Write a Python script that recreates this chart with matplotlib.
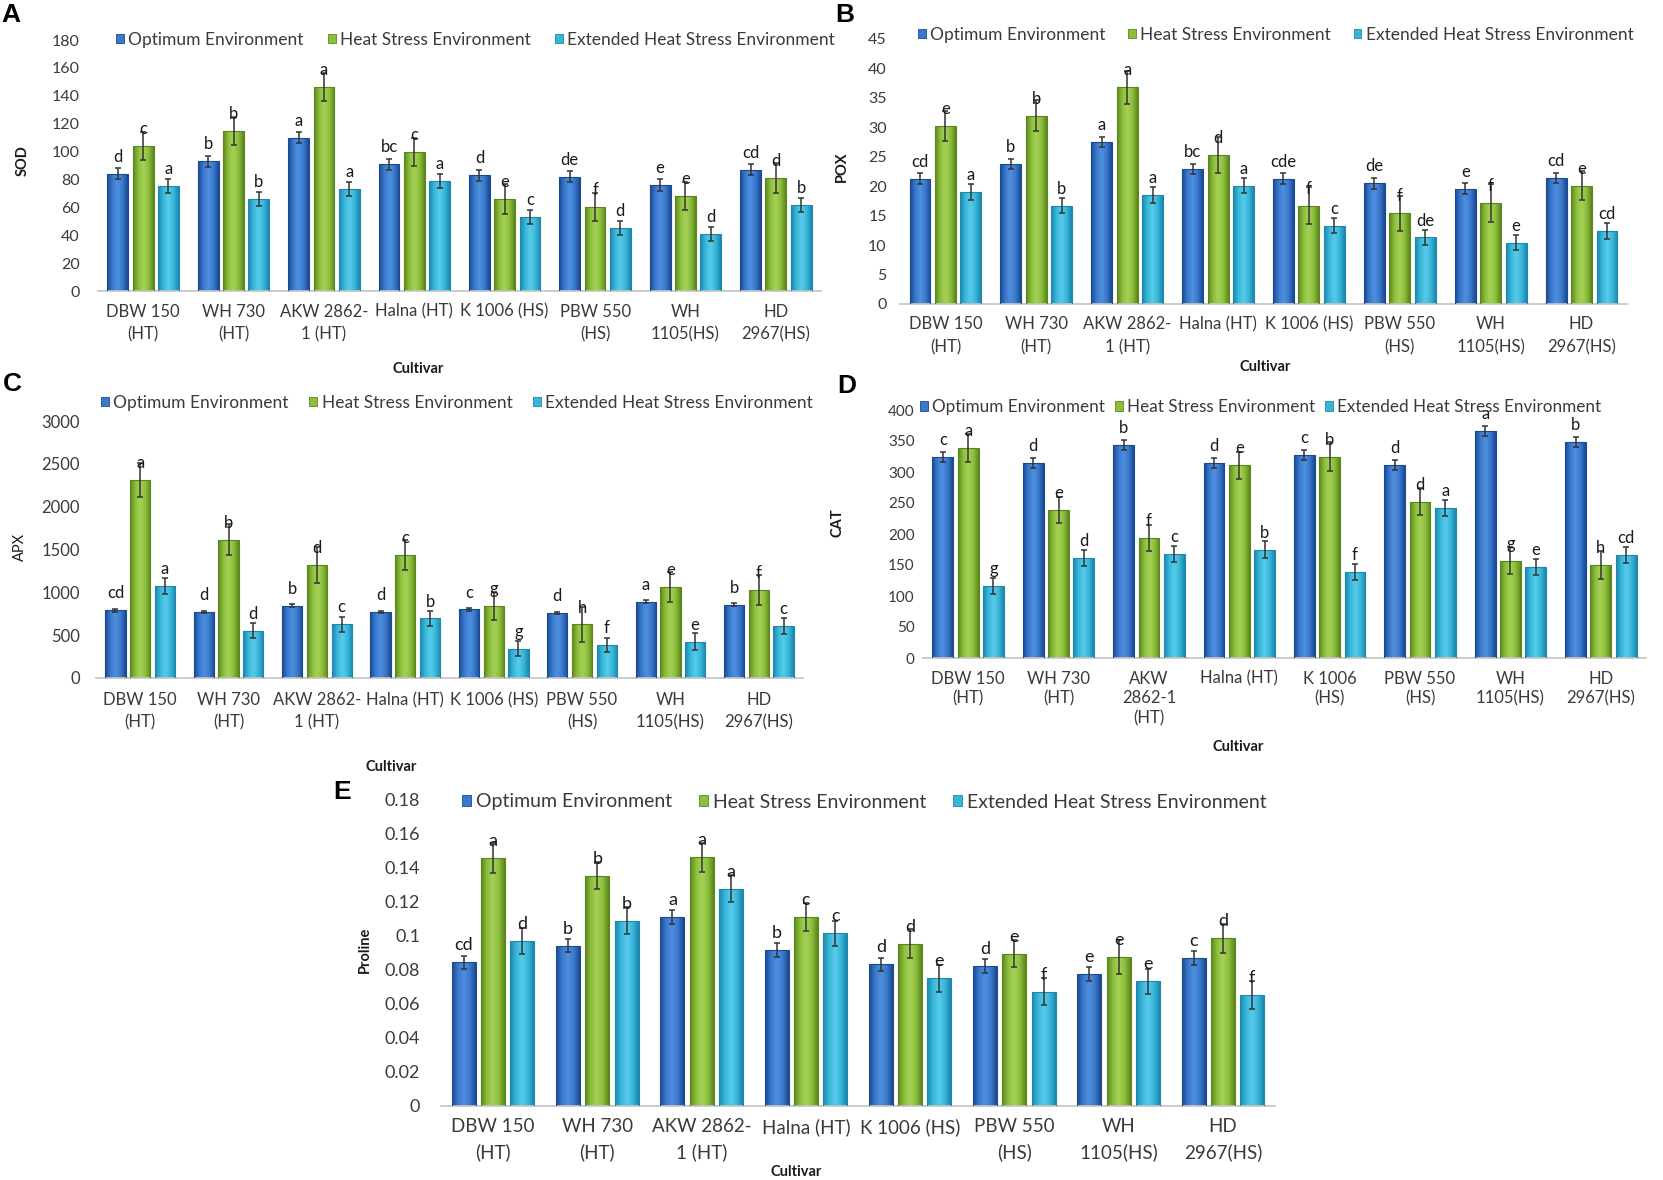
import numpy as np
import matplotlib
matplotlib.use('Agg')
import matplotlib.pyplot as plt
from matplotlib.colors import LinearSegmentedColormap
from matplotlib.patches import Patch

W, H = 1663, 1180
plt.rcParams['font.family'] = ['Lato', 'DejaVu Sans']

# ---------------- data ----------------
series_names = ['Optimum Environment', 'Heat Stress Environment', 'Extended Heat Stress Environment']
cultivars = ['DBW 150\n(HT)', 'WH 730\n(HT)', 'AKW 2862-\n1 (HT)', 'Halna (HT)', 'K 1006 (HS)',
             'PBW 550\n(HS)', 'WH\n1105(HS)', 'HD\n2967(HS)']
cultivars_d = ['DBW 150\n(HT)', 'WH 730\n(HT)', 'AKW\n2862-1\n(HT)', 'Halna (HT)', 'K 1006\n(HS)',
               'PBW 550\n(HS)', 'WH\n1105(HS)', 'HD\n2967(HS)']

sod_opt = [84, 93, 110, 91, 83, 82, 76, 87]
sod_heat = [104, 115, 146, 100, 66, 60, 68, 81]
sod_ext = [75, 66, 73, 79, 53, 45, 41, 62]
sod_opt_err = [4, 4, 4, 4, 4, 4, 4, 4]
sod_heat_err = [10, 10, 10, 10, 11, 10, 10, 11]
sod_ext_err = [5, 5, 5, 5, 5, 5, 5, 5]
sod_opt_lab = ['d', 'b', 'a', 'bc', 'd', 'de', 'e', 'cd']
sod_heat_lab = ['c', 'b', 'a', 'c', 'e', 'f', 'e', 'd']
sod_ext_lab = ['a', 'b', 'a', 'a', 'c', 'd', 'd', 'b']

pox_opt = [21.3, 23.8, 27.5, 22.9, 21.3, 20.5, 19.6, 21.4]
pox_heat = [30.2, 32.0, 36.8, 25.3, 16.7, 15.4, 17.1, 20.1]
pox_ext = [19.0, 16.7, 18.5, 20.1, 13.3, 11.3, 10.4, 12.4]
pox_opt_err = [0.9, 0.9, 0.9, 0.9, 0.9, 0.9, 0.9, 0.9]
pox_heat_err = [2.6, 2.6, 2.8, 3.0, 3.2, 3.0, 3.2, 2.5]
pox_ext_err = [1.3, 1.3, 1.3, 1.3, 1.3, 1.3, 1.3, 1.3]
pox_opt_lab = ['cd', 'b', 'a', 'bc', 'cde', 'de', 'e', 'cd']
pox_heat_lab = ['e', 'b', 'a', 'd', 'f', 'f', 'f', 'e']
pox_ext_lab = ['a', 'b', 'a', 'a', 'c', 'de', 'e', 'cd']

apx_opt = [790, 770, 845, 770, 800, 760, 890, 855]
apx_heat = [2310, 1615, 1315, 1440, 840, 625, 1065, 1025]
apx_ext = [1075, 553, 627, 695, 340, 385, 425, 608]
apx_opt_err = [15, 15, 15, 15, 15, 15, 15, 15]
apx_heat_err = [200, 185, 210, 175, 165, 200, 175, 175]
apx_ext_err = [90, 87, 90, 87, 87, 87, 95, 90]
apx_opt_lab = ['cd', 'd', 'b', 'd', 'c', 'd', 'a', 'b']
apx_heat_lab = ['a', 'b', 'd', 'c', 'g', 'h', 'e', 'f']
apx_ext_lab = ['a', 'd', 'c', 'b', 'g', 'f', 'e', 'c']

cat_opt = [324, 315, 344, 314, 327, 311, 366, 348]
cat_heat = [339, 238, 193, 311, 325, 252, 157, 150]
cat_ext = [116, 161, 168, 175, 139, 242, 147, 166]
cat_opt_err = [8, 8, 8, 8, 8, 8, 8, 8]
cat_heat_err = [23, 21, 21, 22, 23, 22, 22, 22]
cat_ext_err = [13, 13, 13, 13, 13, 13, 13, 13]
cat_opt_lab = ['c', 'd', 'b', 'd', 'c', 'd', 'a', 'b']
cat_heat_lab = ['a', 'e', 'f', 'e', 'b', 'd', 'g', 'h']
cat_ext_lab = ['g', 'd', 'c', 'b', 'f', 'a', 'e', 'cd']

pro_opt = [0.0845, 0.0943, 0.1112, 0.0916, 0.0833, 0.0824, 0.0775, 0.0872]
pro_heat = [0.1459, 0.1355, 0.1463, 0.1112, 0.0955, 0.0896, 0.0875, 0.0986]
pro_ext = [0.0971, 0.109, 0.1278, 0.1016, 0.0751, 0.0673, 0.0733, 0.0653]
pro_opt_err = [0.004, 0.004, 0.004, 0.004, 0.004, 0.004, 0.004, 0.004]
pro_heat_err = [0.009, 0.008, 0.0085, 0.008, 0.0085, 0.008, 0.01, 0.0085]
pro_ext_err = [0.0076, 0.0078, 0.0078, 0.0073, 0.0078, 0.0078, 0.0075, 0.0083]
pro_opt_lab = ['cd', 'b', 'a', 'b', 'd', 'd', 'e', 'c']
pro_heat_lab = ['a', 'b', 'a', 'c', 'd', 'e', 'e', 'd']
pro_ext_lab = ['d', 'b', 'a', 'c', 'e', 'f', 'e', 'f']

sod_ticks = [0, 20, 40, 60, 80, 100, 120, 140, 160, 180]
pox_ticks = [0, 5, 10, 15, 20, 25, 30, 35, 40, 45]
apx_ticks = [0, 500, 1000, 1500, 2000, 2500, 3000]
cat_ticks = [0, 50, 100, 150, 200, 250, 300, 350, 400]
pro_ticks = [0, 0.02, 0.04, 0.06, 0.08, 0.1, 0.12, 0.14, 0.16, 0.18]
pro_tick_labels = ['0', '0.02', '0.04', '0.06', '0.08', '0.1', '0.12', '0.14', '0.16', '0.18']

# ---------------- style ----------------
shades = [
    ('#1B4A91', '#3A78CC', '#4E90E0'),
    ('#5A861C', '#8DBE3C', '#A6D257'),
    ('#1B88AC', '#38B6DA', '#58CCEA'),
]
cmaps = [LinearSegmentedColormap.from_list('c%d' % i, [e, m, h, m, e]) for i, (e, m, h) in enumerate(shades)]
grad = np.linspace(0, 1, 64).reshape(1, -1)
TXT = '#3a3a3a'

fig = plt.figure(figsize=(W / 100, H / 100), dpi=100)
fig.patch.set_facecolor('white')


def fx(px):
    return px / W


def fy(py):
    return 1 - py / H


def panel(rect, vals, errs, labs, ticks, tick_labels, cats, fs_tick, fs_cat, fs_leg, fs_lab,
          leg_xy, tick_pad, cat_pad, colsp, lsp=1.5):
    l, t, r, b = rect
    ax = fig.add_axes([fx(l), fy(b), fx(r) - fx(l), fy(t) - fy(b)])
    x = np.arange(len(cats))
    width = 0.23
    offs = [-0.28, 0.0, 0.28]
    for k in range(3):
        bars = ax.bar(x + offs[k], vals[k], width, facecolor='none', edgecolor=shades[k][0],
                      linewidth=0.8, zorder=3)
        for p in bars.patches:
            x0 = p.get_x()
            im = ax.imshow(grad, extent=(x0, x0 + p.get_width(), 0, p.get_height()), aspect='auto',
                           cmap=cmaps[k], origin='lower', zorder=2, interpolation='bilinear')
            im.set_clip_path(p)
        ax.errorbar(x + offs[k], vals[k], yerr=errs[k], fmt='none', ecolor='#333333',
                    elinewidth=1.1, capsize=2.5, capthick=1.1, zorder=4)
        for xi, v, s in zip(x + offs[k], vals[k], labs[k]):
            ax.annotate(s, (xi, v), xytext=(0, 12.2), textcoords='offset points', ha='center',
                        va='center', fontsize=fs_lab, color='#1a1a1a', zorder=5)
    ax.set_xlim(-0.5, len(cats) - 0.5)
    ax.set_ylim(ticks[0], ticks[-1])
    ax.set_aspect('auto')
    ax.set_yticks(ticks)
    ax.set_yticklabels(tick_labels, fontsize=fs_tick, color=TXT)
    ax.set_xticks(x)
    ax.set_xticklabels(cats, fontsize=fs_cat, color=TXT, linespacing=lsp)
    ax.tick_params(axis='both', length=0)
    ax.tick_params(axis='y', pad=tick_pad)
    ax.tick_params(axis='x', pad=cat_pad)
    for s in ['top', 'right', 'left']:
        ax.spines[s].set_visible(False)
    ax.spines['bottom'].set_color('#C8C8C8')
    ax.spines['bottom'].set_linewidth(1.3)
    ax.set_facecolor('none')
    handles = [Patch(facecolor=shades[k][1], edgecolor=shades[k][0], linewidth=0.6) for k in range(3)]
    ax.legend(handles, series_names, ncol=3, loc='center left', frameon=False,
              bbox_to_anchor=(fx(leg_xy[0]), fy(leg_xy[1])), bbox_transform=fig.transFigure,
              fontsize=fs_leg, handlelength=0.45, handleheight=0.45, handletextpad=0.25,
              columnspacing=colsp, borderpad=0, borderaxespad=0, labelcolor=TXT)
    return ax


def ticklabs(ticks):
    return [str(t) for t in ticks]


panel((98, 40, 821, 291), [sod_opt, sod_heat, sod_ext], [sod_opt_err, sod_heat_err, sod_ext_err],
      [sod_opt_lab, sod_heat_lab, sod_ext_lab], sod_ticks, ticklabs(sod_ticks), cultivars,
      11.5, 12, 12.5, 12, (116, 40), 13, 9, 1.4)
panel((900, 39, 1627, 304), [pox_opt, pox_heat, pox_ext], [pox_opt_err, pox_heat_err, pox_ext_err],
      [pox_opt_lab, pox_heat_lab, pox_ext_lab], pox_ticks, ticklabs(pox_ticks), cultivars,
      11.5, 12, 12.5, 12, (918, 35), 9.5, 9, 1.3)
panel((96, 421, 803, 678), [apx_opt, apx_heat, apx_ext], [apx_opt_err, apx_heat_err, apx_ext_err],
      [apx_opt_lab, apx_heat_lab, apx_ext_lab], apx_ticks, ticklabs(apx_ticks), cultivars,
      12, 12, 12.5, 12, (101, 403), 11.5, 10, 1.2)
panel((923, 410, 1646, 658), [cat_opt, cat_heat, cat_ext], [cat_opt_err, cat_heat_err, cat_ext_err],
      [cat_opt_lab, cat_heat_lab, cat_ext_lab], cat_ticks, ticklabs(cat_ticks), cultivars_d,
      11, 12, 12.3, 12, (920, 407), 6, 9, 0.6, 1.3)
panel((441, 800, 1275, 1106), [pro_opt, pro_heat, pro_ext], [pro_opt_err, pro_heat_err, pro_ext_err],
      [pro_opt_lab, pro_heat_lab, pro_ext_lab], pro_ticks, pro_tick_labels, cultivars,
      13, 13.5, 14, 13, (462, 802), 15, 9, 1.4)

# panel letters
for s, (px, py) in zip('ABCDE', [(11, 15), (845, 15), (12, 384), (847, 386), (342, 792)]):
    fig.text(fx(px), fy(py), s, fontsize=19, fontweight='bold', family='Liberation Sans',
             ha='center', va='center', color='black')

# y labels
for s, (px, py), wt in zip(['SOD', 'POX', 'APX', 'CAT', 'Proline'],
                           [(23, 161), (842, 167), (20, 547), (838, 523), (365, 950)],
                           ['bold', 'bold', 'normal', 'bold', 'bold']):
    fig.text(fx(px), fy(py), s, fontsize=10.5, fontweight=wt, rotation=90, ha='center', va='center',
             color='#1a1a1a')

# x axis titles
for (px, py) in [(418, 369), (1265, 367), (391, 767), (1238, 747), (796, 1172)]:
    fig.text(fx(px), fy(py), 'Cultivar', fontsize=10.5, fontweight='bold', ha='center', va='center',
             color='#1a1a1a')

fig.savefig('out.png', dpi=100, facecolor='white')
